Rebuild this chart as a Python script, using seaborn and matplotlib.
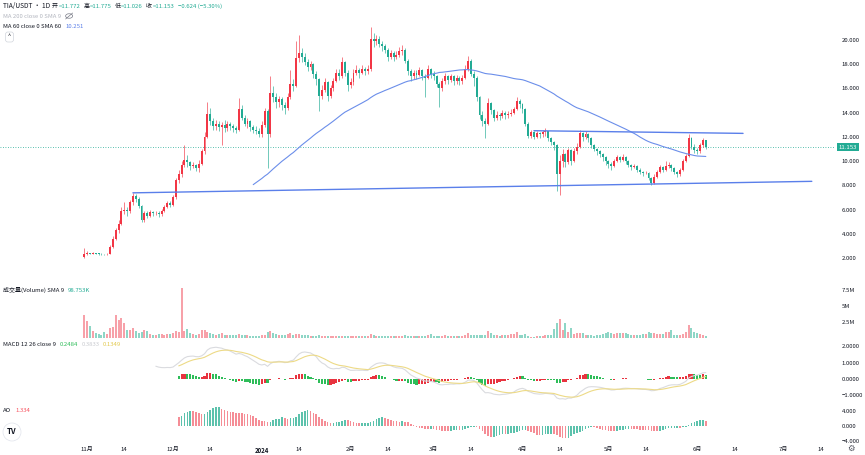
import numpy as np
import pandas as pd
import matplotlib
matplotlib.use("Agg")
import matplotlib.pyplot as plt
import matplotlib.dates as mdates
import matplotlib.transforms as mtransforms
from matplotlib.patches import Ellipse
from matplotlib.lines import Line2D
import seaborn as sns

# ---------------- data ----------------
start_date = "2023-10-31"
first_open = 2.05

close_oct = [2.35]
close_nov = [2.38, 2.36, 2.40, 2.35, 2.33, 2.31, 2.30, 2.32, 2.90, 3.60,
             4.30, 4.80, 5.90, 5.95, 5.85, 6.60, 7.10, 6.90, 6.30, 5.10,
             5.70, 5.50, 5.80, 5.70, 5.75, 5.60, 5.90, 6.20, 6.50, 6.40]
close_dec = [7.00, 8.40, 8.90, 9.70, 10.10, 9.90, 9.60, 9.70, 9.40, 9.80,
             10.80, 12.00, 13.90, 13.30, 12.90, 13.10, 12.80, 13.00, 12.70, 13.10,
             12.90, 12.70, 12.60, 14.30, 13.60, 13.10, 13.30, 12.80, 12.60, 12.50,
             12.20]
close_jan = [13.00, 14.10, 12.20, 15.60, 15.30, 14.90, 15.10, 14.60, 14.40, 15.30,
             16.40, 16.20, 18.50, 18.90, 18.60, 18.20, 17.80, 18.00, 17.20, 16.80,
             15.40, 15.90, 16.50, 15.40, 16.00, 16.60, 17.30, 17.00, 18.20, 17.30,
             16.30]
close_feb = [16.50, 17.30, 17.50, 17.30, 17.60, 17.40, 17.60, 20.10, 19.90, 20.10,
             19.70, 19.50, 19.20, 18.60, 18.90, 18.60, 18.80, 19.10, 19.20, 18.30,
             17.40, 17.00, 17.30, 17.10, 17.50, 17.00, 16.90, 17.60, 17.20]
close_mar = [17.00, 16.40, 16.00, 16.60, 17.00, 16.70, 17.00, 16.60, 16.90, 16.60,
             16.90, 17.60, 18.30, 17.20, 16.90, 15.30, 13.80, 13.30, 13.10, 14.80,
             14.20, 13.60, 13.80, 13.70, 14.00, 13.80, 13.90, 14.00, 14.30, 15.00,
             14.70]
close_apr = [14.30, 13.10, 12.10, 12.40, 12.00, 12.30, 12.20, 12.40, 12.50, 11.90,
             11.60, 11.30, 8.90, 10.00, 10.60, 9.90, 10.90, 10.00, 10.80, 11.20,
             12.30, 12.00, 12.20, 11.90, 11.30, 11.00, 10.80, 10.60, 10.30, 10.00]
close_may = [9.80, 9.60, 10.00, 10.30, 10.10, 10.30, 10.00, 9.70, 9.50, 9.60,
             9.30, 9.10, 9.00, 9.05, 8.60, 8.20, 8.70, 9.10, 9.50, 9.30,
             9.60, 9.70, 9.40, 9.10, 8.90, 9.30, 10.00, 10.40, 11.90, 11.20,
             10.90]
close_jun = [10.80, 11.30, 11.772, 11.153]

high_oct = [2.85]
high_nov = [2.55, 2.45, 2.48, 2.44, 2.40, 2.38, 2.36, 2.40, 3.05, 3.80,
            4.50, 5.10, 6.20, 6.60, 6.20, 6.80, 7.40, 7.30, 7.00, 6.40,
            5.90, 5.90, 5.95, 5.90, 5.90, 5.85, 6.05, 6.40, 6.70, 6.70]
high_dec = [7.20, 8.60, 9.30, 10.00, 11.30, 10.50, 10.00, 9.90, 9.80, 10.10,
            11.00, 12.40, 14.90, 14.40, 13.60, 13.40, 13.30, 13.20, 13.40, 13.30,
            13.20, 13.10, 12.90, 15.20, 14.60, 13.80, 13.60, 13.40, 13.00, 12.90,
            12.70]
high_jan = [13.30, 14.40, 14.30, 17.00, 16.20, 15.60, 15.40, 15.30, 14.90, 15.60,
            17.50, 16.80, 19.90, 20.40, 19.30, 18.90, 18.40, 18.30, 18.10, 17.40,
            16.90, 16.30, 16.90, 16.60, 16.30, 16.90, 17.60, 17.60, 18.60, 18.30,
            17.50]
high_feb = [16.90, 17.60, 17.90, 17.70, 17.90, 17.80, 17.90, 21.10, 20.60, 20.40,
            20.30, 19.90, 19.70, 19.30, 19.20, 19.10, 19.10, 19.40, 19.60, 19.30,
            18.40, 17.60, 17.50, 17.50, 17.80, 17.60, 17.20, 17.90, 17.70]
high_mar = [17.40, 17.10, 16.50, 16.90, 17.30, 17.10, 17.20, 17.10, 17.10, 17.00,
            17.10, 17.90, 18.70, 18.40, 17.40, 17.00, 15.40, 14.10, 13.60, 15.20,
            14.90, 14.30, 14.10, 14.00, 14.20, 14.10, 14.10, 14.30, 14.50, 15.30,
            15.10]
high_apr = [14.80, 14.40, 13.20, 12.60, 12.50, 12.50, 12.40, 12.60, 12.70, 12.50,
            12.00, 11.70, 11.40, 10.50, 11.00, 10.70, 11.10, 11.00, 11.10, 11.50,
            12.60, 12.40, 12.50, 12.30, 12.00, 11.40, 11.10, 10.90, 10.70, 10.40]
high_may = [10.10, 9.90, 10.20, 10.50, 10.40, 10.60, 10.40, 10.10, 9.80, 9.80,
            9.70, 9.40, 9.20, 9.20, 9.10, 8.70, 8.90, 9.30, 9.70, 9.60,
            10.00, 9.90, 9.80, 9.50, 9.20, 9.40, 10.20, 10.60, 12.20, 12.00,
            11.40]
high_jun = [11.10, 11.50, 11.90, 11.775]

low_oct = [2.00]
low_nov = [2.28, 2.30, 2.32, 2.30, 2.28, 2.26, 2.25, 2.26, 2.30, 2.85,
           3.50, 4.10, 4.70, 5.60, 5.50, 5.70, 6.40, 6.60, 6.10, 5.00,
           5.00, 5.30, 5.40, 5.50, 5.55, 5.35, 5.50, 5.80, 6.10, 6.20]
low_dec = [6.30, 6.90, 8.20, 8.70, 9.50, 9.50, 9.30, 9.40, 9.20, 9.10,
           9.70, 10.60, 11.90, 13.00, 12.60, 12.60, 12.50, 11.30, 12.40, 12.50,
           12.60, 12.40, 12.30, 12.50, 13.40, 12.90, 12.70, 12.50, 12.30, 12.20,
           12.00]
low_jan = [12.00, 12.80, 9.40, 12.00, 14.90, 14.40, 14.50, 14.20, 13.90, 14.20,
           15.10, 15.80, 16.10, 18.20, 18.20, 17.90, 17.40, 17.50, 16.90, 16.30,
           14.10, 15.10, 15.70, 15.00, 15.20, 15.80, 16.50, 16.70, 16.90, 17.00,
           15.80]
low_feb = [16.00, 16.30, 17.10, 16.90, 17.20, 17.10, 17.20, 17.40, 19.40, 19.60,
           19.40, 19.10, 18.90, 18.30, 18.40, 18.30, 18.40, 18.60, 18.80, 18.10,
           17.10, 16.60, 16.80, 16.80, 17.00, 16.70, 15.30, 16.80, 16.90]
low_mar = [16.70, 16.10, 14.50, 15.80, 16.40, 16.40, 16.50, 16.30, 16.40, 16.30,
           16.40, 16.80, 17.40, 17.00, 16.20, 15.00, 13.50, 12.90, 11.90, 13.00,
           13.90, 13.30, 13.40, 13.40, 13.60, 13.50, 13.60, 13.70, 13.90, 14.20,
           14.40]
low_apr = [14.00, 12.90, 11.90, 11.90, 11.80, 11.90, 11.90, 12.00, 12.10, 11.70,
           11.30, 10.90, 7.50, 7.20, 9.50, 9.50, 9.80, 9.70, 9.90, 10.60,
           11.10, 11.70, 11.80, 11.60, 11.10, 10.80, 10.50, 10.30, 10.00, 9.70]
low_may = [9.40, 9.30, 9.50, 9.90, 9.90, 10.00, 9.80, 9.50, 9.30, 9.40,
           9.10, 8.90, 8.80, 8.90, 8.40, 8.00, 8.10, 8.60, 9.00, 9.10,
           9.20, 9.40, 9.20, 8.90, 8.70, 8.80, 9.20, 9.90, 10.30, 11.00,
           10.70]
low_jun = [10.60, 10.70, 11.20, 11.026]

# volume in millions
vol_oct = [3.6]
vol_nov = [2.7, 1.9, 1.1, 0.75, 0.6, 0.45, 0.9, 0.55, 1.6, 1.7,
           3.6, 2.8, 3.1, 2.4, 1.3, 1.25, 1.5, 1.1, 0.85, 1.0,
           1.25, 1.1, 0.6, 0.5, 0.45, 0.55, 0.7, 0.5, 0.6, 0.6]
vol_dec = [0.85, 1.1, 0.9, 7.8, 1.1, 1.4, 0.85, 0.7, 0.45, 0.6,
           1.2, 1.2, 0.9, 0.85, 0.6, 0.5, 0.7, 0.8, 0.5, 0.5,
           0.45, 0.4, 0.4, 0.65, 0.5, 0.45, 0.4, 0.35, 0.35, 0.3,
           0.35]
vol_jan = [0.4, 0.5, 0.9, 1.1, 0.8, 0.6, 0.5, 0.45, 0.45, 0.7,
           0.75, 0.5, 0.6, 0.65, 0.5, 0.45, 0.4, 0.35, 0.35, 0.3,
           0.45, 0.3, 0.3, 0.35, 0.25, 0.3, 0.3, 0.3, 0.35, 0.3,
           0.3]
vol_feb = [0.3, 0.35, 0.3, 0.25, 0.3, 0.25, 0.3, 0.55, 0.4, 0.35,
           0.3, 0.3, 0.35, 0.3, 0.25, 0.25, 0.3, 0.3, 0.35, 0.4,
           0.35, 0.3, 0.25, 0.3, 0.3, 0.25, 0.35, 0.4, 0.55]
vol_mar = [0.3, 0.35, 0.3, 0.25, 0.5, 0.3, 0.3, 0.25, 0.3, 0.25,
           0.3, 0.5, 0.8, 0.5, 0.5, 0.45, 0.4, 0.4, 0.5, 1.1,
           0.8, 0.5, 0.45, 0.35, 0.4, 0.45, 0.5, 0.55, 0.6, 0.9,
           0.5]
vol_apr = [0.45, 0.6, 0.3, 0.2, 0.2, 0.25, 0.3, 0.35, 0.4, 0.45,
           0.5, 1.4, 2.3, 3.0, 1.3, 2.3, 0.9, 1.6, 0.6, 0.8,
           0.8, 0.8, 0.5, 0.5, 0.4, 0.35, 0.4, 0.45, 0.6, 0.8]
vol_may = [1.0, 0.75, 0.7, 0.8, 0.75, 0.8, 0.75, 0.7, 0.5, 0.45,
           0.4, 0.5, 0.7, 0.6, 0.9, 0.75, 0.8, 0.6, 0.55, 0.7,
           1.0, 1.0, 1.2, 0.5, 0.5, 0.45, 0.55, 0.9, 2.1, 1.6,
           1.0]
vol_jun = [0.8, 0.6, 0.5, 0.3]

# hand-drawn trend lines (date, price)
trend_low_dates = ["2023-11-17", "2024-07-11"]
trend_low_prices = [7.38, 8.33]
trend_up_dates = ["2024-04-05", "2024-06-17"]
trend_up_prices = [12.51, 12.29]

price_ticks = [2, 4, 6, 8, 10, 12, 14, 16, 18, 20]
vol_ticks = [2.5, 5, 7.5]
vol_tick_labels = ["2.5M", "5M", "7.5M"]
macd_ticks = [-1, 0, 1, 2]
ao_ticks = [-4, 0, 4]
x_tick_dates = ["2023-11-01", "2023-11-14", "2023-12-01", "2023-12-14", "2024-01-01",
                "2024-01-14", "2024-02-01", "2024-02-14", "2024-03-01", "2024-03-14",
                "2024-04-01", "2024-04-14", "2024-05-01", "2024-05-14", "2024-06-01",
                "2024-06-14", "2024-07-01", "2024-07-14"]
x_tick_labels = ["11月", "14", "12月", "14", "2024", "14", "2月", "14", "3月", "14",
                 "4月", "14", "5月", "14", "6月", "14", "7月", "14"]

# ---------------- assemble ----------------
close = np.array(close_oct + close_nov + close_dec + close_jan + close_feb + close_mar + close_apr + close_may + close_jun)
high = np.array(high_oct + high_nov + high_dec + high_jan + high_feb + high_mar + high_apr + high_may + high_jun)
low = np.array(low_oct + low_nov + low_dec + low_jan + low_feb + low_mar + low_apr + low_may + low_jun)
vol = np.array(vol_oct + vol_nov + vol_dec + vol_jan + vol_feb + vol_mar + vol_apr + vol_may + vol_jun)
n = min(len(close), len(high), len(low), len(vol))
close, high, low, vol = close[:n], high[:n], low[:n], vol[:n]
opn = np.concatenate([[first_open], close[:-1]])
high = np.maximum(high, np.maximum(opn, close))
low = np.minimum(low, np.minimum(opn, close))

dates = pd.date_range(start_date, periods=n, freq="D")
x = mdates.date2num(dates)
up = close >= opn

cs = pd.Series(close)
ma60 = cs.rolling(60).mean()
ema12 = cs.ewm(span=12, adjust=False).mean()
ema26 = cs.ewm(span=26, adjust=False).mean()
macd = ema12 - ema26
macd[:25] = np.nan
signal = macd.ewm(span=9, adjust=False).mean()
signal[:33] = np.nan
hist = macd - signal
med = pd.Series((high + low) / 2)
ao = med.rolling(5).mean() - med.rolling(34).mean()

# ---------------- style ----------------
sns.set_theme(style="white")
plt.rcParams['font.family'] = ['Noto Sans CJK SC', 'DejaVu Sans']
plt.rcParams['axes.unicode_minus'] = True

RED = "#F23645"
GREEN = "#22AB94"
TXT = "#131722"
BLUE = "#6B8EEA"
FS = 4.3

W, H = 865, 455
fig = plt.figure(figsize=(W / 100, H / 100), dpi=100)
fig.patch.set_facecolor("white")

def px_axes(left, top, right, bottom, **kw):
    return fig.add_axes([left / W, 1 - bottom / H, (right - left) / W, (bottom - top) / H], **kw)

x0 = mdates.date2num(pd.Timestamp(start_date)) - 29.4
x1 = mdates.date2num(pd.Timestamp(start_date)) + 262.1
ax_p = px_axes(0, 0, 835, 283)
ax_v = px_axes(0, 283, 835, 340, sharex=ax_p)
ax_m = px_axes(0, 340, 835, 402, sharex=ax_p)
ax_a = px_axes(0, 402, 835, 441, sharex=ax_p)

for ax in (ax_p, ax_v, ax_m, ax_a):
    ax.set_facecolor("white")
    for s in ax.spines.values():
        s.set_visible(False)
    ax.yaxis.tick_right()
    ax.tick_params(axis="y", length=0, labelsize=FS, labelcolor=TXT, pad=5)
    ax.tick_params(axis="x", length=0, labelsize=FS, labelcolor=TXT)
    ax.grid(False)
ax_p.set_xlim(x0, x1)

# ---- price pane ----
cols = np.where(up, RED, GREEN)
ax_p.vlines(x, low, high, colors=cols, lw=0.6, alpha=0.75, zorder=2)
body_b = np.minimum(opn, close)
body_h = np.maximum(np.abs(close - opn), 0.05)
ax_p.bar(x, body_h, bottom=body_b, width=0.68, color=cols, linewidth=0, zorder=3)

ma_df = pd.DataFrame({"x": x, "ma": ma60}).dropna()
sns.lineplot(data=ma_df, x="x", y="ma", ax=ax_p, color=BLUE, lw=0.8, zorder=4)
ax_p.plot(mdates.date2num(pd.to_datetime(trend_low_dates)), trend_low_prices, color="#5A7FEA", lw=1.0, zorder=4)
ax_p.plot(mdates.date2num(pd.to_datetime(trend_up_dates)), trend_up_prices, color="#5A7FEA", lw=1.0, zorder=4)
ax_p.axhline(close[-1], color=GREEN, lw=0.6, ls=(0, (1, 2)), zorder=1)

ax_p.set_ylim(2 - (283 - 258) / 12.11, 20 + 40 / 12.11)
ax_p.set_yticks(price_ticks)
ax_p.set_yticklabels([f"{t:.3f}" for t in price_ticks])
trans = mtransforms.blended_transform_factory(ax_p.transAxes, ax_p.transData)
ax_p.text(1.0 + 3.5 / 835, close[-1], f"{close[-1]:.3f}", transform=trans, ha="left", va="center",
          color="white", fontsize=FS, bbox=dict(boxstyle="square,pad=0.3", fc=GREEN, ec="none"), zorder=10,
          clip_on=False)

# ---- volume pane ----
vcols = np.where(up, "#F7A1A9", "#8ED6C6")
ax_v.bar(x, vol, width=0.7, color=vcols, linewidth=0)
ax_v.set_ylim(-(340 - 338) / 6.4, (338 - 283) / 6.4)
ax_v.set_yticks(vol_ticks)
ax_v.set_yticklabels(vol_tick_labels)

# ---- MACD pane ----
hvals = hist.values
hprev = np.concatenate([[np.nan], hvals[:-1]])
hcols = np.where(hvals >= hprev, "#E8333F", "#2EBD59")
ok = ~np.isnan(hvals)
ax_m.bar(x[ok], hvals[ok], width=0.75, color=hcols[ok], linewidth=0, zorder=2)
m_df = pd.DataFrame({"x": x, "macd": macd, "signal": signal})
sns.lineplot(data=m_df.dropna(subset=["macd"]), x="x", y="macd", ax=ax_m, color="#DADBDF", lw=0.8, zorder=3)
sns.lineplot(data=m_df.dropna(subset=["signal"]), x="x", y="signal", ax=ax_m, color="#EDDA86", lw=0.8, zorder=3)
ax_m.set_ylim(-(402 - 379) / 16.3, (379 - 340) / 16.3)
ax_m.set_yticks(macd_ticks)
ax_m.set_yticklabels([f"{t:.4f}".replace("-", "−") for t in macd_ticks])

# ---- AO pane ----
avals = ao.values
aprev = np.concatenate([[np.nan], avals[:-1]])
acols = np.where(avals >= aprev, "#5CC2AC", "#F58D96")
ok = ~np.isnan(avals)
ax_a.bar(x[ok], avals[ok], width=0.55, color=acols[ok], linewidth=0)
ax_a.set_ylim(-(441 - 427) / 4.0, (427 - 402) / 4.0)
ax_a.set_yticks(ao_ticks)
ax_a.set_yticklabels([f"{t:.3f}".replace("-", "−") for t in ao_ticks])

for ax in (ax_p, ax_v, ax_m, ax_a):
    ax.set_xlabel("")
    ax.set_ylabel("")
for ax in (ax_p, ax_v, ax_m):
    ax.tick_params(axis="x", labelbottom=False)
ax_a.set_xticks(mdates.date2num(pd.to_datetime(x_tick_dates)))
ax_a.set_xticklabels(x_tick_labels)
ax_a.tick_params(axis="x", pad=4)
for lbl in ax_a.get_xticklabels():
    if lbl.get_text() == "2024":
        lbl.set_fontweight("bold")

# cover the lower half of the clipped "-4.000" label like the time axis strip does
fig.add_artist(matplotlib.patches.Rectangle((836 / W, 0), 29 / W, 1 - 444 / H, transform=fig.transFigure,
                                            fc="white", ec="none", zorder=5))

# ---------------- legends / header text ----------------
renderer = fig.canvas.get_renderer()

def seq(px, py, pieces, size=FS):
    cur = px
    for s, color, gap in pieces:
        t = fig.text(cur / W, 1 - py / H, s, color=color, fontsize=size, ha="left", va="center", zorder=6)
        bb = t.get_window_extent(renderer=renderer)
        cur += bb.width + gap
    return cur

seq(3, 6, [("TIA/USDT · 1D", TXT, 4)], size=4.8)
seq(52, 6, [("开", TXT, 0.5), ("=11.772", GREEN, 3), ("高", TXT, 0.5), ("=11.775", GREEN, 3),
            ("低", TXT, 0.5), ("=11.026", GREEN, 3), ("收", TXT, 0.5), ("=11.153", GREEN, 4),
            ("−0.624 (−5.30%)", GREEN, 0)])
end_ma200 = seq(3, 16, [("MA 200 close 0 SMA 9", "#B2B5BE", 0)])
# hidden-indicator (eye slash) icon
ex, ey = (end_ma200 + 8) / W, 1 - 16 / H
fig.add_artist(Ellipse((ex, ey), 7 / W, 4.5 / H, transform=fig.transFigure, fill=False, ec="#787B86", lw=0.5))
fig.add_artist(Line2D([ex - 3.5 / W, ex + 3.5 / W], [ey - 3 / H, ey + 3 / H], transform=fig.transFigure,
                      color="#787B86", lw=0.5))
seq(3, 27, [("MA 60 close 0 SMA 60", TXT, 4), ("10.251", "#5B7FE8", 0)])
fig.text(9.5 / W, 1 - 37 / H, "^", color=TXT, fontsize=4, ha="center", va="center",
         bbox=dict(boxstyle="round,pad=0.45", fc="white", ec="#D1D4DC", lw=0.5))
seq(3, 290, [("成交量(Volume) SMA 9", TXT, 4), ("98.753K", GREEN, 0)])
seq(3, 344, [("MACD 12 26 close 9", TXT, 4), ("0.2484", "#2EBD59", 3), ("0.3833", "#C9CBD0", 3),
             ("0.1349", "#E2C94E", 0)])
seq(3, 411, [("AO", TXT, 4), ("1.334", "#F7525F", 0)])
fig.add_artist(Ellipse((12 / W, 1 - 432 / H), 18 / W, 18 / H, transform=fig.transFigure,
                       fc="white", ec="#E0E3EB", lw=0.5))
fig.text(12 / W, 1 - 432 / H, "TV", color="#131722", fontsize=5.5, fontweight="bold", ha="center", va="center")
fig.text(851 / W, 1 - 448 / H, "⚙", color="#50535E", fontsize=6, ha="center", va="center",
         family=["DejaVu Sans"], zorder=6)

fig.savefig("out.png", dpi=100, facecolor="white")
